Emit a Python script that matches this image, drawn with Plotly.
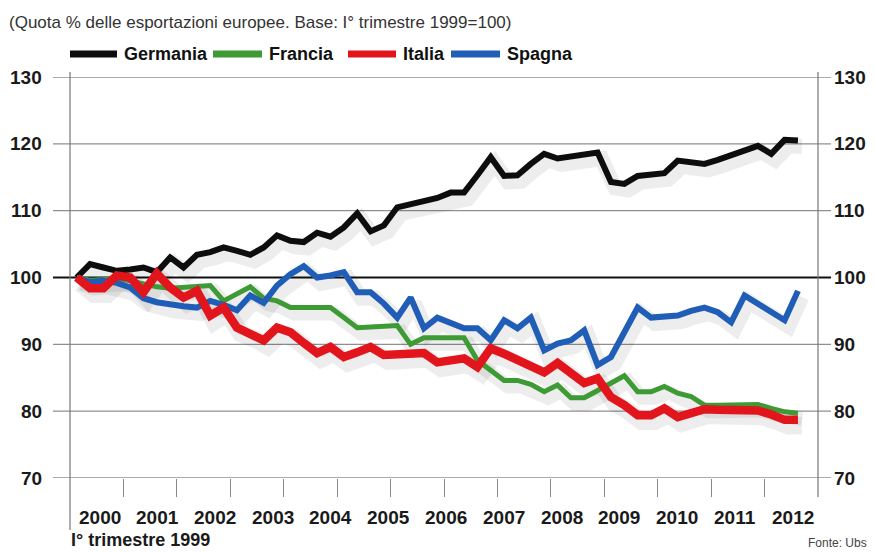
import plotly.graph_objects as go

# ---------------- data ----------------
title_text = "(Quota % delle esportazioni europee. Base: I° trimestre 1999=100)"
series_names = ["Germania", "Francia", "Italia", "Spagna"]
# quarters from I trimestre 1999 to III trimestre 2012
quarters = [f"{1999 + k // 4}-T{k % 4 + 1}" for k in range(55)]

germania = [100.0, 102.0, 101.5, 101.0, 101.2, 101.5, 100.8, 103.0, 101.5, 103.4,
            103.8, 104.5, 104.0, 103.4, 104.5, 106.3, 105.5, 105.3, 106.7, 106.1,
            107.5, 109.6, 106.9, 107.8, 110.5, 111.0, 111.6, 111.9, 112.7, 112.7,
            115.3, 118.0, 115.2, 115.3, 117.0, 118.5, 117.8, 118.1, 118.4, 118.7,
            114.3, 114.0, 115.2, 115.4, 115.6, 117.5, 117.2, 117.0, 117.6, 118.3,
            119.0, 119.7, 118.5, 120.6, 120.5]
francia = [100.0, 99.6, 99.7, 99.9, 99.5, 99.0, 98.6, 98.4, 98.5, 98.6,
           98.8, 96.5, 97.5, 98.6, 96.9, 96.5, 95.5, 95.5, 95.5, 95.5,
           94.0, 92.5, 92.6, 92.7, 92.8, 90.0, 91.0, 91.0, 91.0, 91.0,
           87.6, 86.1, 84.6, 84.6, 84.0, 82.9, 83.9, 82.0, 82.0, 83.1,
           84.2, 85.3, 82.9, 82.9, 83.7, 82.7, 82.2, 80.9, 80.9, 80.9,
           80.9, 81.0, 80.4, 79.9, 79.7]
italia = [100.0, 98.4, 98.4, 100.3, 100.0, 97.8, 100.6, 98.5, 97.0, 98.0,
          94.3, 95.5, 92.5, 91.7, 90.6, 92.5, 91.8, 90.2, 88.7, 89.6,
          88.1, 88.8, 89.6, 88.4, 88.5, 88.6, 88.7, 87.3, 87.6, 87.9,
          86.6, 89.4, 88.6, 87.7, 86.8, 85.8, 87.2, 85.6, 84.2, 84.9,
          82.1, 80.9, 79.4, 79.4, 80.4, 79.1, 79.8, 80.3, 80.2, 80.2,
          80.1, 80.1, 79.5, 78.7, 78.7]
spagna = [100.0, 99.3, 99.5, 99.2, 98.5, 96.9, 96.3, 95.9, 95.7, 95.5,
          96.5, 95.9, 95.1, 97.3, 96.2, 98.8, 100.5, 101.7, 100.0, 100.3,
          100.8, 97.8, 97.8, 96.1, 94.0, 97.0, 92.4, 94.0, 93.2, 92.4,
          92.4, 90.6, 93.6, 92.4, 94.0, 89.1, 90.1, 90.6, 92.1, 86.9,
          88.1, 91.7, 95.5, 94.0, 94.1, 94.3, 95.0, 95.5, 94.8, 93.3,
          97.3, 96.0, 94.8, 93.6, 98.0]
year_labels = [str(y) for y in range(2000, 2013)]
y_ticks = [70, 80, 90, 100, 110, 120, 130]
first_label = "I° trimestre 1999"
source_text = "Fonte: Ubs"

# ---------------- style ----------------
FONT = "Liberation Sans, Arial, sans-serif"
colors = ["#0d0d0d", "#3d9a34", "#e2151c", "#1f5db6"]
widths = [6, 5, 8.5, 6]
values = [germania, francia, italia, spagna]
draw_order = [0, 1, 3, 2]  # Italia on top

W, H = 875, 552
L, R, T, B = 70, 57, 77, 74
pw, ph = W - L - R, H - T - B
n_slots = 56  # 14 years x 4 quarters on the axis

def px_to_paper_x(px):
    return (px - L) / pw

def py_to_paper_y(py):
    return (H - B - py) / ph

x = [i + 0.5 for i in range(len(quarters))]

fig = go.Figure()

# soft drop shadows
for idx in draw_order:
    fig.add_trace(go.Scatter(
        x=[v + 0.3 for v in x], y=[v - 0.9 for v in values[idx]],
        mode="lines", line=dict(color="rgba(0,0,0,0.07)", width=widths[idx] + 9),
        hoverinfo="skip", showlegend=False))

for idx in draw_order:
    fig.add_trace(go.Scatter(
        x=x, y=values[idx], mode="lines", name=series_names[idx],
        line=dict(color=colors[idx], width=widths[idx]),
        showlegend=False))

shapes = []
annotations = []

# horizontal grid lines, extending slightly beyond the plot frame
for v in y_ticks:
    shapes.append(dict(type="line", xref="paper", yref="y",
                       x0=px_to_paper_x(53), x1=px_to_paper_x(831), y0=v, y1=v,
                       line=dict(color="#111111" if v == 100 else "#8f8f8f",
                                 width=2.2 if v == 100 else 1.4),
                       layer="below"))
    annotations.append(dict(xref="paper", yref="y", x=px_to_paper_x(44), y=v,
                            text=str(v), showarrow=False, xanchor="right",
                            yanchor="middle",
                            font=dict(family=FONT, size=19, color="#1a1a1a",
                                      weight="bold")))
    annotations.append(dict(xref="paper", yref="y", x=px_to_paper_x(832), y=v,
                            text=str(v), showarrow=False, xanchor="left",
                            yanchor="middle",
                            font=dict(family=FONT, size=19, color="#1a1a1a",
                                      weight="bold")))

# vertical frame lines
shapes.append(dict(type="line", xref="paper", yref="paper", x0=0, x1=0,
                   y0=py_to_paper_y(530), y1=py_to_paper_y(72),
                   line=dict(color="#777777", width=1.2)))
shapes.append(dict(type="line", xref="paper", yref="paper", x0=1, x1=1,
                   y0=py_to_paper_y(497), y1=py_to_paper_y(72),
                   line=dict(color="#777777", width=1.2)))

# year labels (spread evenly under the axis)
lab_start, lab_end = 2.25, 54.1
step = (lab_end - lab_start) / (len(year_labels) - 1)
for k, lab in enumerate(year_labels):
    annotations.append(dict(xref="x", yref="paper", x=lab_start + k * step,
                            y=py_to_paper_y(517), text=lab, showarrow=False,
                            xanchor="center", yanchor="middle",
                            font=dict(family=FONT, size=19, color="#1a1a1a",
                                      weight="bold")))

annotations.append(dict(xref="paper", yref="paper", x=px_to_paper_x(69),
                        y=py_to_paper_y(540), text=first_label, showarrow=False,
                        xanchor="left", yanchor="middle",
                        font=dict(family=FONT, size=18, color="#1a1a1a",
                                  weight="bold")))
annotations.append(dict(xref="paper", yref="paper", x=px_to_paper_x(869),
                        y=py_to_paper_y(543), text=source_text, showarrow=False,
                        xanchor="right", yanchor="middle",
                        font=dict(family=FONT, size=12, color="#444444")))
annotations.append(dict(xref="paper", yref="paper", x=px_to_paper_x(7),
                        y=py_to_paper_y(22), text=title_text, showarrow=False,
                        xanchor="left", yanchor="middle",
                        font=dict(family=FONT, size=17, color="#333333")))

# manual legend with long swatches
legend_swatch = [(70, 117), (213, 262), (348, 396), (451, 500)]
legend_y = 54
for idx, (a, b) in enumerate(legend_swatch):
    shapes.append(dict(type="line", xref="paper", yref="paper",
                       x0=px_to_paper_x(a), x1=px_to_paper_x(b),
                       y0=py_to_paper_y(legend_y), y1=py_to_paper_y(legend_y),
                       line=dict(color=colors[idx], width=7)))
    annotations.append(dict(xref="paper", yref="paper", x=px_to_paper_x(b + 5),
                            y=py_to_paper_y(legend_y), text=series_names[idx],
                            showarrow=False, xanchor="left", yanchor="middle",
                            font=dict(family=FONT, size=18, color="#111111",
                                      weight="bold")))

fig.update_layout(
    width=W, height=H,
    margin=dict(l=L, r=R, t=T, b=B),
    paper_bgcolor="white", plot_bgcolor="white",
    shapes=shapes, annotations=annotations,
    xaxis=dict(range=[0, n_slots], showgrid=False, zeroline=False, showline=False,
               tickmode="array", tickvals=list(range(4, n_slots, 4)),
               showticklabels=False, ticks="outside", ticklen=18,
               tickcolor="#888888", tickwidth=1.2, fixedrange=True),
    yaxis=dict(range=[70, 130], showgrid=False, zeroline=False, showline=False,
               showticklabels=False, ticks="", fixedrange=True),
    font=dict(family=FONT),
)

fig.write_html("out.html")
